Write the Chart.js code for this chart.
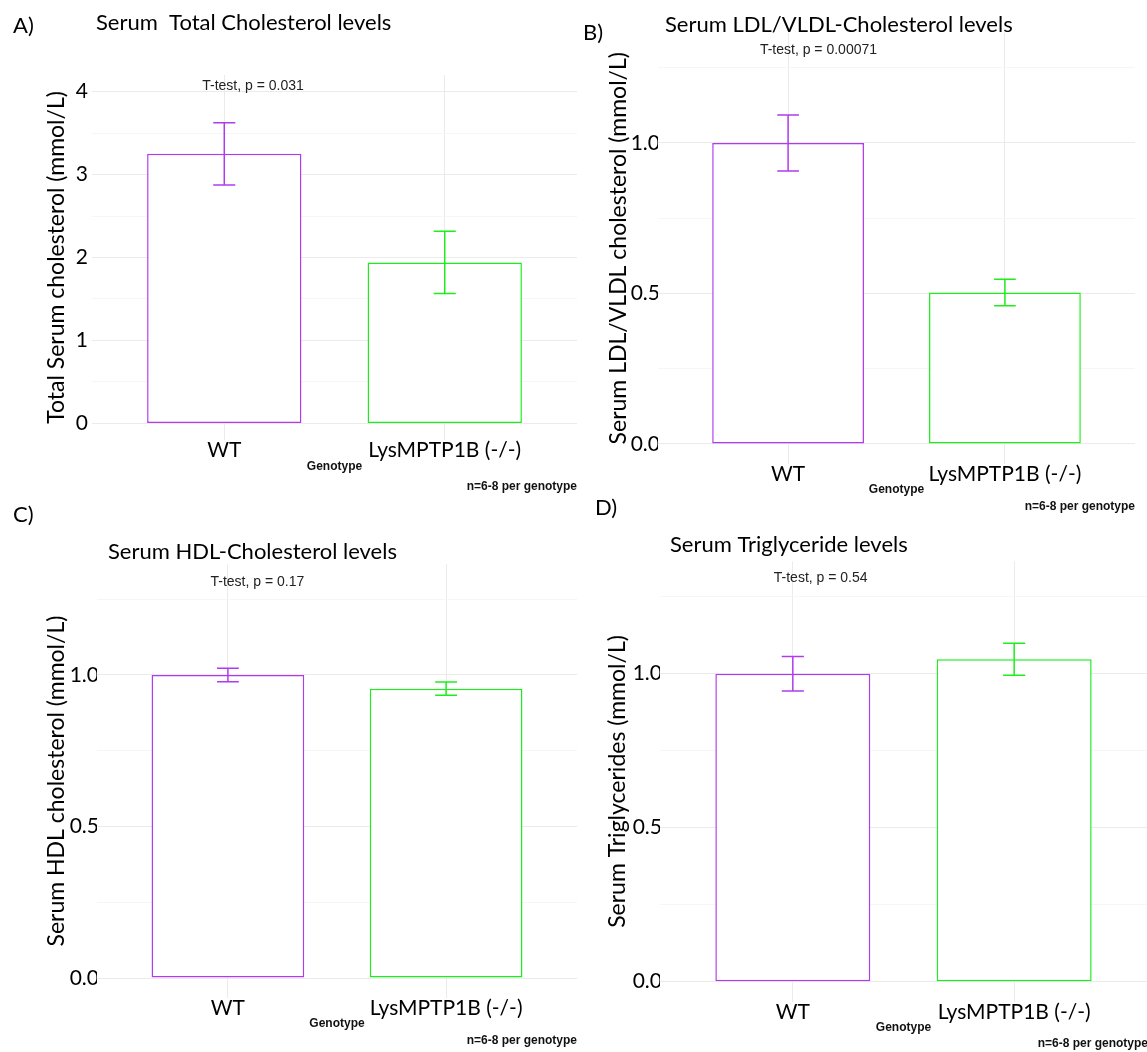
<!DOCTYPE html>
<html>
<head>
<meta charset="utf-8">
<script src="https://cdn.jsdelivr.net/npm/chart.js@4.4.0/dist/chart.umd.min.js"></script>
<style>
  html, body { margin: 0; padding: 0; background: #fff; }
  body { width: 1147px; height: 1052px; position: relative; overflow: hidden; }
  .panel { position: absolute; }
  .panel canvas { display: block; }
</style>
</head>
<body>
<div class="panel" style="left:0px;top:0px;"><canvas id="chartA"></canvas></div>
<div class="panel" style="left:575px;top:0px;"><canvas id="chartB"></canvas></div>
<div class="panel" style="left:0px;top:490px;"><canvas id="chartC"></canvas></div>
<div class="panel" style="left:580px;top:490px;"><canvas id="chartD"></canvas></div>
<script>
// data
const categories = ['WT', 'LysMPTP1B (-/-)'];

const totalMeans = [3.25, 1.94];
const totalErrors = [0.375, 0.375];
const ldlMeans = [1.0, 0.503];
const ldlErrors = [0.093, 0.044];
const hdlMeans = [1.0, 0.955];
const hdlErrors = [0.022, 0.022];
const tgMeans = [1.0, 1.047];
const tgErrors = [0.056, 0.052];

const totalTicks = [0, 0.5, 1, 1.5, 2, 2.5, 3, 3.5, 4];
const ratioTicks = [0, 0.25, 0.5, 0.75, 1, 1.25];

const pLabels = ['T-test, p = 0.031', 'T-test, p = 0.00071', 'T-test, p = 0.17', 'T-test, p = 0.54'];
const xTitle = 'Genotype';
const noteText = 'n=6-8 per genotype';

const barColors = ['#B23AEE', '#1CEE1C'];
const FONT = "Lato, 'Open Sans', sans-serif";
const ARIAL = "'Liberation Sans', Arial, sans-serif";
const Y_TITLE_SIZE = 23;
const CAP_HALF = 0.05; // errorbar cap half width, x units

function isMajor(v, step) {
  const r = v / step;
  return Math.abs(r - Math.round(r)) < 1e-6;
}

function makePanel(p) {
  const canvas = document.getElementById(p.id);
  canvas.width = p.w;
  canvas.height = p.h;
  const a = p.area;
  const yAxisW = a.left - (p.yTitleX - Y_TITLE_SIZE * 1.2 / 2);
  const xAxisH = p.xAxisH;

  const overlay = {
    id: 'overlay',
    afterDatasetsDraw(chart) {
      const { ctx, scales: { x, y } } = chart;
      ctx.save();
      ctx.lineWidth = 1.5;
      p.means.forEach((m, i) => {
        const cx = x.getPixelForValue(i + 1);
        const half = x.getPixelForValue(i + 1 + CAP_HALF) - cx;
        const top = y.getPixelForValue(m + p.errors[i]);
        const bot = y.getPixelForValue(m - p.errors[i]);
        ctx.strokeStyle = barColors[i];
        ctx.beginPath();
        ctx.moveTo(cx, top); ctx.lineTo(cx, bot);
        ctx.moveTo(cx - half, top); ctx.lineTo(cx + half, top);
        ctx.moveTo(cx - half, bot); ctx.lineTo(cx + half, bot);
        ctx.stroke();
      });
      ctx.fillStyle = '#222';
      ctx.font = '14px ' + ARIAL;
      ctx.textAlign = 'left';
      ctx.textBaseline = 'middle';
      ctx.fillText(p.pLabel, x.getPixelForValue(p.pAt[0]), y.getPixelForValue(p.pAt[1]));
      ctx.restore();
    },
    afterDraw(chart) {
      const ctx = chart.ctx;
      ctx.save();
      ctx.fillStyle = '#000';
      ctx.textBaseline = 'middle';
      ctx.textAlign = 'left';
      ctx.font = '22px ' + FONT;
      ctx.fillText(p.letter, p.letterPos[0], p.letterPos[1]);
      ctx.fillText(p.title, p.titlePos[0], p.titlePos[1]);
      ctx.font = 'bold 12px ' + ARIAL;
      ctx.textAlign = 'right';
      ctx.fillStyle = '#111';
      ctx.fillText(noteText, p.noteX, p.noteY);
      ctx.restore();
    }
  };

  return new Chart(canvas, {
    type: 'bar',
    data: {
      datasets: [{
        data: p.means.map((m, i) => ({ x: i + 1, y: m })),
        backgroundColor: '#ffffff',
        borderColor: barColors,
        borderWidth: 1.5,
        borderSkipped: false,
        barPercentage: 0.7,
        categoryPercentage: 1
      }]
    },
    options: {
      responsive: false,
      animation: false,
      devicePixelRatio: 1,
      layout: {
        padding: {
          left: a.left - yAxisW,
          right: p.w - a.right,
          top: a.top,
          bottom: p.h - a.bottom - xAxisH
        }
      },
      plugins: {
        legend: { display: false },
        tooltip: { enabled: false },
        title: { display: false }
      },
      scales: {
        x: {
          type: 'linear',
          min: 0.4,
          max: 2.6,
          offset: false,
          afterBuildTicks: (s) => { s.ticks = categories.map((c, i) => ({ value: i + 1 })); },
          afterFit: (s) => { s.height = xAxisH; },
          border: { display: false },
          grid: { color: '#EBEBEB', lineWidth: 1, drawTicks: false, offset: false },
          ticks: {
            autoSkip: false,
            maxRotation: 0,
            padding: 0,
            color: '#000',
            font: { family: FONT, size: 21, lineHeight: 1 },
            callback: (v) => categories[Math.round(v) - 1] || ''
          },
          title: {
            display: true,
            text: xTitle,
            color: '#111',
            padding: 0,
            font: { family: ARIAL, size: 12, weight: 'bold' }
          }
        },
        y: {
          min: p.yMin,
          max: p.yMax,
          afterBuildTicks: (s) => { s.ticks = p.ticks.map((v) => ({ value: v })); },
          afterFit: (s) => { s.width = yAxisW; },
          border: { display: false },
          grid: {
            drawTicks: false,
            color: (ctx) => (ctx.tick && isMajor(ctx.tick.value, p.major) ? '#EBEBEB' : '#F4F4F4'),
            lineWidth: (ctx) => (ctx.tick && isMajor(ctx.tick.value, p.major) ? 1 : 0.8)
          },
          ticks: {
            autoSkip: false,
            padding: p.yTickPad,
            color: '#000',
            font: { family: FONT, size: 21 },
            callback: (v) => (isMajor(v, p.major) ? v.toFixed(p.decimals) : '')
          },
          title: {
            display: true,
            text: p.yTitle,
            color: '#000',
            padding: 0,
            font: { family: FONT, size: Y_TITLE_SIZE }
          }
        }
      }
    },
    plugins: [overlay]
  });
}

makePanel({
  id: 'chartA', w: 580, h: 500,
  area: { left: 92, right: 577, top: 75, bottom: 440 },
  yMin: -0.2, yMax: 4.2, ticks: totalTicks, major: 1, decimals: 0, yTickPad: 4,
  means: totalMeans, errors: totalErrors,
  letter: 'A)', letterPos: [13, 26],
  title: 'Serum  Total Cholesterol levels', titlePos: [96, 23],
  yTitle: 'Total Serum cholesterol (mmol/L)', yTitleX: 57,
  pLabel: pLabels[0], pAt: [0.9, 4.06],
  xAxisH: 34, noteX: 577, noteY: 487
});

makePanel({
  id: 'chartB', w: 572, h: 520,
  area: { left: 83, right: 560, top: 33, bottom: 463.5 },
  yMin: -0.065, yMax: 1.365, ticks: ratioTicks, major: 0.5, decimals: 1, yTickPad: -2,
  means: ldlMeans, errors: ldlErrors,
  letter: 'B)', letterPos: [8, 33],
  title: 'Serum LDL/VLDL-Cholesterol levels', titlePos: [90, 25],
  yTitle: 'Serum LDL/VLDL cholesterol (mmol/L)', yTitleX: 44,
  pLabel: pLabels[1], pAt: [0.87, 1.307],
  xAxisH: 33, noteX: 560, noteY: 507
});

makePanel({
  id: 'chartC', w: 580, h: 562,
  area: { left: 97, right: 577, top: 74.4, bottom: 507.7 },
  yMin: -0.065, yMax: 1.365, ticks: ratioTicks, major: 0.5, decimals: 1, yTickPad: -2,
  means: hdlMeans, errors: hdlErrors,
  letter: 'C)', letterPos: [13, 25],
  title: 'Serum HDL-Cholesterol levels', titlePos: [108, 62],
  yTitle: 'Serum HDL cholesterol (mmol/L)', yTitleX: 57,
  pLabel: pLabels[2], pAt: [0.92, 1.307],
  xAxisH: 33, noteX: 577, noteY: 551
});

makePanel({
  id: 'chartD', w: 567, h: 562,
  area: { left: 80, right: 567, top: 71.3, bottom: 511.7 },
  yMin: -0.065, yMax: 1.365, ticks: ratioTicks, major: 0.5, decimals: 1, yTickPad: -2,
  means: tgMeans, errors: tgErrors,
  letter: 'D)', letterPos: [15, 18],
  title: 'Serum Triglyceride levels', titlePos: [90, 55],
  yTitle: 'Serum Triglycerides (mmol/L)', yTitleX: 38,
  pLabel: pLabels[3], pAt: [0.914, 1.31],
  xAxisH: 33, noteX: 568, noteY: 554
});
</script>
</body>
</html>
